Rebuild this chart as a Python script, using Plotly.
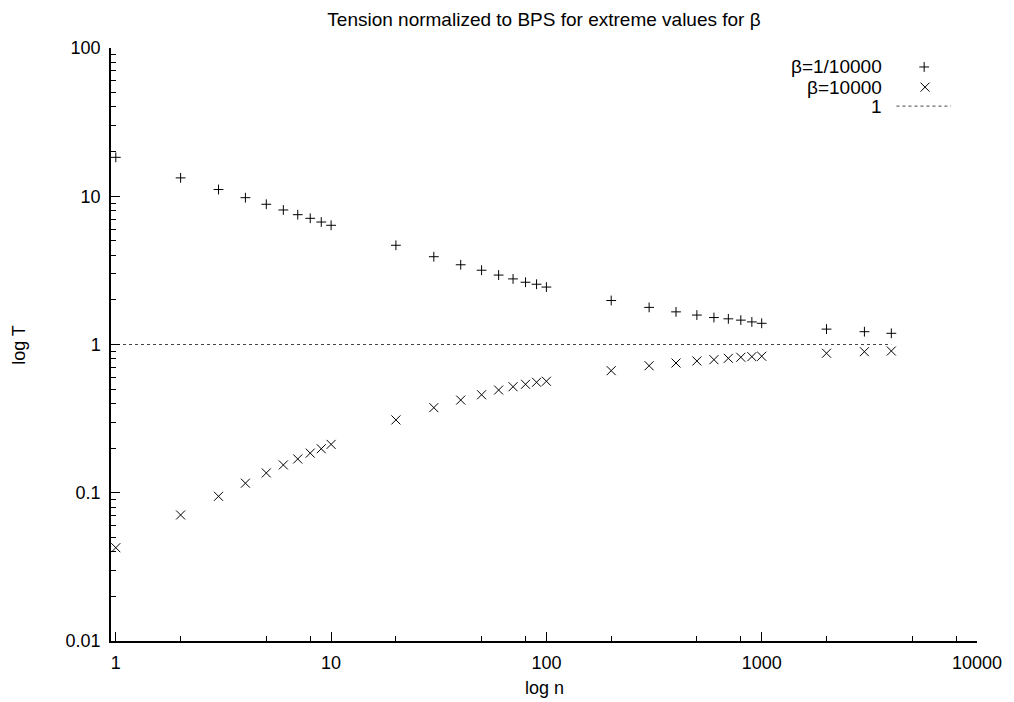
import plotly.graph_objects as go

# ---- data ----
n_values = [1, 2, 3, 4, 5, 6, 7, 8, 9, 10,
            20, 30, 40, 50, 60, 70, 80, 90, 100,
            200, 300, 400, 500, 600, 700, 800, 900, 1000,
            2000, 3000, 4000]
t_beta_small = [18.3, 13.3, 11.1, 9.78, 8.83, 8.08, 7.51, 7.10, 6.70, 6.37,
                4.67, 3.91, 3.45, 3.17, 2.94, 2.77, 2.63, 2.55, 2.44,
                1.98, 1.78, 1.66, 1.58, 1.52, 1.49, 1.46, 1.42, 1.39,
                1.27, 1.22, 1.19]
t_beta_large = [0.0426, 0.0708, 0.0946, 0.116, 0.136, 0.154, 0.169, 0.185, 0.198, 0.212,
                0.310, 0.375, 0.422, 0.458, 0.493, 0.519, 0.539, 0.556, 0.565,
                0.666, 0.719, 0.750, 0.774, 0.790, 0.807, 0.820, 0.828, 0.833,
                0.873, 0.894, 0.904]
ref_x = [0.95, 4000]
ref_y = [1, 1]

x_ticks = [1, 10, 100, 1000, 10000]
x_tick_labels = ["1", "10", "100", "1000", "10000"]
x_minor = [d * m for d in [1, 10, 100, 1000] for m in [2, 5, 8]]
y_ticks = [0.01, 0.1, 1, 10, 100]
y_tick_labels = ["0.01", "0.1", "1", "10", "100"]
y_minor = [d * m for d in [0.01, 0.1, 1, 10] for m in range(2, 10)]

series_names = ["β=1/10000", "β=10000", "1"]
title_text = "Tension normalized to BPS for extreme values for β"

FONT = "Liberation Sans, Arial, sans-serif"
FS = 19
FS_TICK = 18

fig = go.Figure()
fig.add_trace(go.Scatter(x=ref_x, y=ref_y, mode="lines",
                         line=dict(color="#444", width=1, dash="3px,3px"),
                         showlegend=False))
fig.add_trace(go.Scatter(x=n_values, y=t_beta_small, mode="markers",
                         marker=dict(symbol="cross-thin", size=7,
                                     line=dict(color="black", width=1)),
                         showlegend=False))
fig.add_trace(go.Scatter(x=n_values, y=t_beta_large, mode="markers",
                         marker=dict(symbol="x-thin", size=9,
                                     line=dict(color="black", width=1)),
                         showlegend=False))

# manual gnuplot-style key (overlay axes 0..1)
fig.add_trace(go.Scatter(x=[0.939], y=[0.968], xaxis="x2", yaxis="y2", mode="markers",
                         marker=dict(symbol="cross-thin", size=7,
                                     line=dict(color="black", width=1)),
                         showlegend=False, hoverinfo="skip"))
fig.add_trace(go.Scatter(x=[0.940], y=[0.934], xaxis="x2", yaxis="y2", mode="markers",
                         marker=dict(symbol="x-thin", size=9,
                                     line=dict(color="black", width=1)),
                         showlegend=False, hoverinfo="skip"))
fig.add_trace(go.Scatter(x=[0.907, 0.970], y=[0.902, 0.902], xaxis="x2", yaxis="y2",
                         mode="lines", line=dict(color="#444", width=1, dash="3px,3px"),
                         showlegend=False, hoverinfo="skip"))

key_y = [0.968, 0.934, 0.902]
annotations = []
for name, yy in zip(series_names, key_y):
    annotations.append(dict(text=name, x=0.893, y=yy, xref="paper", yref="paper",
                            xanchor="right", yanchor="middle", showarrow=False,
                            font=dict(family=FONT, size=FS, color="black")))
annotations.append(dict(text="log n", x=0.5, y=-0.079, xref="paper", yref="paper",
                        xanchor="center", yanchor="middle", showarrow=False,
                        font=dict(family=FONT, size=FS_TICK, color="black")))
annotations.append(dict(text="log T", x=-0.107, y=0.5, xref="paper", yref="paper",
                        xanchor="center", yanchor="middle", showarrow=False, textangle=-90,
                        font=dict(family=FONT, size=FS_TICK, color="black")))

fig.update_layout(
    width=1014, height=702,
    margin=dict(l=111, r=33, t=48, b=61),
    paper_bgcolor="white", plot_bgcolor="white",
    font=dict(family=FONT, size=FS_TICK, color="black"),
    title=dict(text=title_text, x=0.5, xref="paper", y=1 - 19 / 702, yref="container",
               xanchor="center", yanchor="middle",
               font=dict(family=FONT, size=FS, color="black")),
    annotations=annotations,
    xaxis=dict(type="log", range=[-0.0223, 4], showgrid=False, zeroline=False,
               showline=True, linecolor="black", linewidth=1.5, mirror=False,
               tickmode="array", tickvals=x_ticks, ticktext=x_tick_labels,
               ticks="inside", ticklen=9, tickwidth=1, tickcolor="black",
               ticklabelstandoff=5, tickfont=dict(family=FONT, size=FS_TICK),
               minor=dict(tickmode="array", tickvals=x_minor, ticks="inside",
                          ticklen=5, tickwidth=1, tickcolor="black", showgrid=False)),
    yaxis=dict(type="log", range=[-2, 2], showgrid=False, zeroline=False,
               showline=True, linecolor="black", linewidth=1.5, mirror=False,
               tickmode="array", tickvals=y_ticks, ticktext=y_tick_labels,
               ticks="inside", ticklen=9, tickwidth=1, tickcolor="black",
               ticklabelstandoff=5, tickfont=dict(family=FONT, size=FS_TICK),
               minor=dict(tickmode="array", tickvals=y_minor, ticks="inside",
                          ticklen=5, tickwidth=1, tickcolor="black", showgrid=False)),
    xaxis2=dict(overlaying="x", range=[0, 1], visible=False),
    yaxis2=dict(overlaying="y", range=[0, 1], visible=False),
    showlegend=False,
)

fig.write_html("out.html")
